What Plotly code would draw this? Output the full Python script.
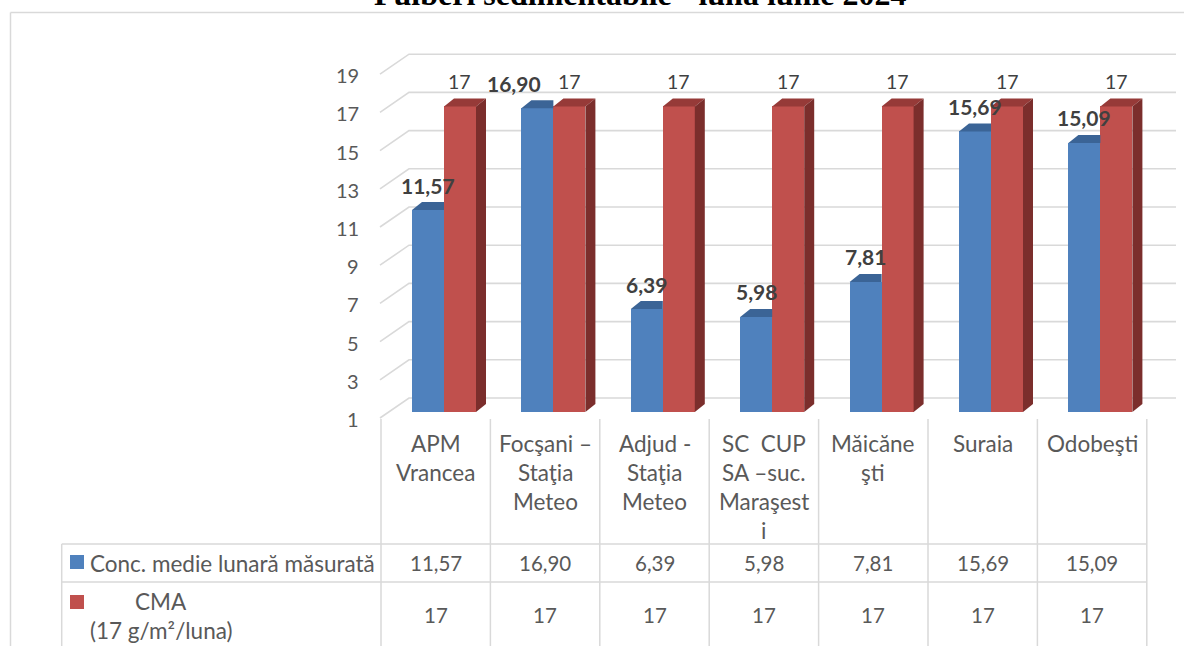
import plotly.graph_objects as go

# ---------------- data ----------------
title_text = "Pulberi sedimentabile - luna iunie 2024"
categories = [
    ["APM", "Vrancea"],
    ["Focşani –", "Staţia", "Meteo"],
    ["Adjud -", "Staţia", "Meteo"],
    ["SC  CUP", "SA –suc.", "Maraşest", "i"],
    ["Măicăne", "şti"],
    ["Suraia"],
    ["Odobeşti"],
]
series1_name = "Conc. medie lunară măsurată"
series2_name_lines = ["CMA", "(17 g/m²/luna)"]
measured = [11.57, 16.90, 6.39, 5.98, 7.81, 15.69, 15.09]
cma = [17, 17, 17, 17, 17, 17, 17]
y_ticks = [1, 3, 5, 7, 9, 11, 13, 15, 17, 19]
y_min = 1

# ---------------- styling / geometry (pixels) ----------------
W, H = 1184, 646
COL_LEFT = 381.0
COL_W = 109.4
Y1_PX = 412.0
UNIT_PX = 19.1
BAR_W_PX = 32.0
BLUE_LEFT_PX = 31.0          # from column left edge
DEPTH_DX, DEPTH_DY = 10.0, 8.0
GRID_FRONT_X, GRID_BACK_X, GRID_END_X = 380.0, 409.0, 1176.0
GRID_FRONT_DY, GRID_BACK_DY = 6.0, -14.0

BLUE, RED = "#4F81BD", "#C0504D"
BLUE_TOP, RED_TOP, RED_SIDE = "#3B6496", "#963A38", "#7B2E2C"
GRID = "#D9D9D9"
TXT = "#595959"
LBL = "#404040"
FONT = "Lato"
FS_TEXT = 22.5
FS_NUM = 20.5
FS_TICK = 20
FS_LBL_BOLD = 21
FS_LBL = 19.5

CENTER0 = COL_LEFT + COL_W / 2


def dx(px):
    return (px - CENTER0) / COL_W


def dy(py):
    return y_min + (Y1_PX - py) / UNIT_PX


def pxw(p):
    return p / COL_W


def pyu(p):
    return p / UNIT_PX


def paper_x(px):
    return px / W


def paper_y(py):
    return 1 - py / H


def fmt(v):
    if float(v).is_integer():
        return str(int(v))
    return f"{v:.2f}".replace(".", ",")


n = len(measured)
idx = list(range(n))
blue_off = pxw(BLUE_LEFT_PX - COL_W / 2)
bw = pxw(BAR_W_PX)
red_off = blue_off + bw

fig = go.Figure()
fig.add_trace(go.Bar(x=idx, y=[v - y_min for v in measured], base=y_min, offset=blue_off,
                     width=bw, marker=dict(color=BLUE, line=dict(width=0)),
                     name=series1_name, hoverinfo="skip"))
fig.add_trace(go.Bar(x=idx, y=[v - y_min for v in cma], base=y_min, offset=red_off,
                     width=bw, marker=dict(color=RED, line=dict(width=0)),
                     name=" ".join(series2_name_lines), hoverinfo="skip"))

shapes = []
# 3D gridlines
for t in y_ticks:
    yf = t - pyu(GRID_FRONT_DY)
    yb = t - pyu(GRID_BACK_DY)
    path = f"M {dx(GRID_FRONT_X)},{yf} L {dx(GRID_BACK_X)},{yb} L {dx(GRID_END_X)},{yb}"
    shapes.append(dict(type="path", xref="x", yref="y", path=path, layer="below",
                       line=dict(color=GRID, width=1.6)))

ddx, ddy = pxw(DEPTH_DX), pyu(DEPTH_DY)
# 3D faces
for i in idx:
    x0 = i + blue_off
    x1 = x0 + bw
    t = measured[i]
    shapes.append(dict(type="path", xref="x", yref="y", layer="above", line=dict(width=0),
                       fillcolor=BLUE_TOP,
                       path=f"M {x0},{t} L {x1},{t} L {x1},{t + ddy} L {x0 + ddx},{t + ddy} Z"))
    x0 = i + red_off
    x1 = x0 + bw
    t = cma[i]
    shapes.append(dict(type="path", xref="x", yref="y", layer="above", line=dict(width=0),
                       fillcolor=RED_TOP,
                       path=f"M {x0},{t} L {x1},{t} L {x1 + ddx},{t + ddy} L {x0 + ddx},{t + ddy} Z"))
    shapes.append(dict(type="path", xref="x", yref="y", layer="above", line=dict(width=0),
                       fillcolor=RED_SIDE,
                       path=f"M {x1},{y_min} L {x1},{t} L {x1 + ddx},{t + ddy} L {x1 + ddx},{y_min + ddy} Z"))

# outer chart border
shapes.append(dict(type="line", xref="paper", yref="paper", x0=paper_x(10.5), x1=paper_x(10.5),
                   y0=paper_y(12.5), y1=paper_y(H + 2), line=dict(color=GRID, width=1.5)))
shapes.append(dict(type="line", xref="paper", yref="paper", x0=paper_x(10.5), x1=paper_x(W + 2),
                   y0=paper_y(12.5), y1=paper_y(12.5), line=dict(color=GRID, width=1.5)))

# data table lines
TABLE_LEFT = 61.7
ROW1_TOP, ROW2_TOP = 544.0, 582.0
table_right = COL_LEFT + n * COL_W
for k in range(n + 1):
    xk = COL_LEFT + k * COL_W
    shapes.append(dict(type="line", xref="paper", yref="paper", x0=paper_x(xk), x1=paper_x(xk),
                       y0=paper_y(419), y1=paper_y(H + 2), line=dict(color=GRID, width=1.5)))
for yy in (ROW1_TOP, ROW2_TOP):
    shapes.append(dict(type="line", xref="paper", yref="paper", x0=paper_x(TABLE_LEFT),
                       x1=paper_x(table_right), y0=paper_y(yy), y1=paper_y(yy),
                       line=dict(color=GRID, width=1.5)))
shapes.append(dict(type="line", xref="paper", yref="paper", x0=paper_x(TABLE_LEFT),
                   x1=paper_x(TABLE_LEFT), y0=paper_y(ROW1_TOP), y1=paper_y(H + 2),
                   line=dict(color=GRID, width=1.5)))
# legend keys
for (c, ytop) in ((BLUE, 555.0), (RED, 595.0)):
    shapes.append(dict(type="rect", xref="paper", yref="paper", x0=paper_x(70), x1=paper_x(84),
                       y0=paper_y(ytop), y1=paper_y(ytop + 14), fillcolor=c, line=dict(width=0)))

ann = []


def txt(text, x, y, size, xanchor="center", color=TXT, bold=False, family=FONT):
    text = text.replace("  ", "\u00a0 ")
    ann.append(dict(text=f"<b>{text}</b>" if bold else text, x=paper_x(x), y=paper_y(y),
                    xref="paper", yref="paper", xanchor=xanchor, yanchor="middle",
                    showarrow=False, font=dict(family=family, size=size, color=color)))


# title (cut at the top edge like the reference)
ann.append(dict(text=f"<b>{title_text}</b>", x=paper_x(640), y=paper_y(-5.6), xref="paper",
                yref="paper", xanchor="center", yanchor="middle", showarrow=False,
                font=dict(family="Liberation Serif", size=32, color="#000000")))

# y tick labels
for t in y_ticks:
    txt(str(t), 361, Y1_PX - (t - y_min) * UNIT_PX + GRID_FRONT_DY + 1, FS_TICK, xanchor="right")

# bar data labels
LABEL_GAP = 25
label_nudge = {1: -23}
for i in idx:
    base_cx = CENTER0 + (i * COL_W) + BLUE_LEFT_PX - COL_W / 2 + BAR_W_PX / 2
    txt(fmt(measured[i]), base_cx + label_nudge.get(i, 0),
        Y1_PX - (measured[i] - y_min) * UNIT_PX - LABEL_GAP, FS_LBL_BOLD, color=LBL, bold=True)
    txt(fmt(cma[i]), base_cx + BAR_W_PX,
        Y1_PX - (cma[i] - y_min) * UNIT_PX - LABEL_GAP, FS_LBL, color=LBL)

# category labels
for i, lines in enumerate(categories):
    cx = CENTER0 + i * COL_W
    for j, line in enumerate(lines):
        txt(line, cx, 443 + 29.3 * j, FS_TEXT)

# table values
for i in idx:
    cx = CENTER0 + i * COL_W
    txt(fmt(measured[i]), cx, 563, FS_NUM)
    txt(fmt(cma[i]), cx, 615, FS_NUM)

# table row headers
txt(series1_name, 88, 563, FS_TEXT, xanchor="left")
txt(series2_name_lines[0], 160.7, 601.7, FS_TEXT)
txt(series2_name_lines[1], 88, 630, FS_TEXT, xanchor="left")

fig.update_layout(
    width=W, height=H,
    margin=dict(l=0, r=0, t=0, b=0),
    paper_bgcolor="white", plot_bgcolor="white",
    showlegend=False,
    xaxis=dict(range=[dx(0), dx(W)], visible=False, fixedrange=True),
    yaxis=dict(range=[dy(H), dy(0)], visible=False, fixedrange=True),
    shapes=shapes, annotations=ann,
    bargap=0,
)

fig.write_html("out.html", config={"displayModeBar": False},
               post_script="document.body.style.margin='0';document.body.style.overflow='hidden';")
